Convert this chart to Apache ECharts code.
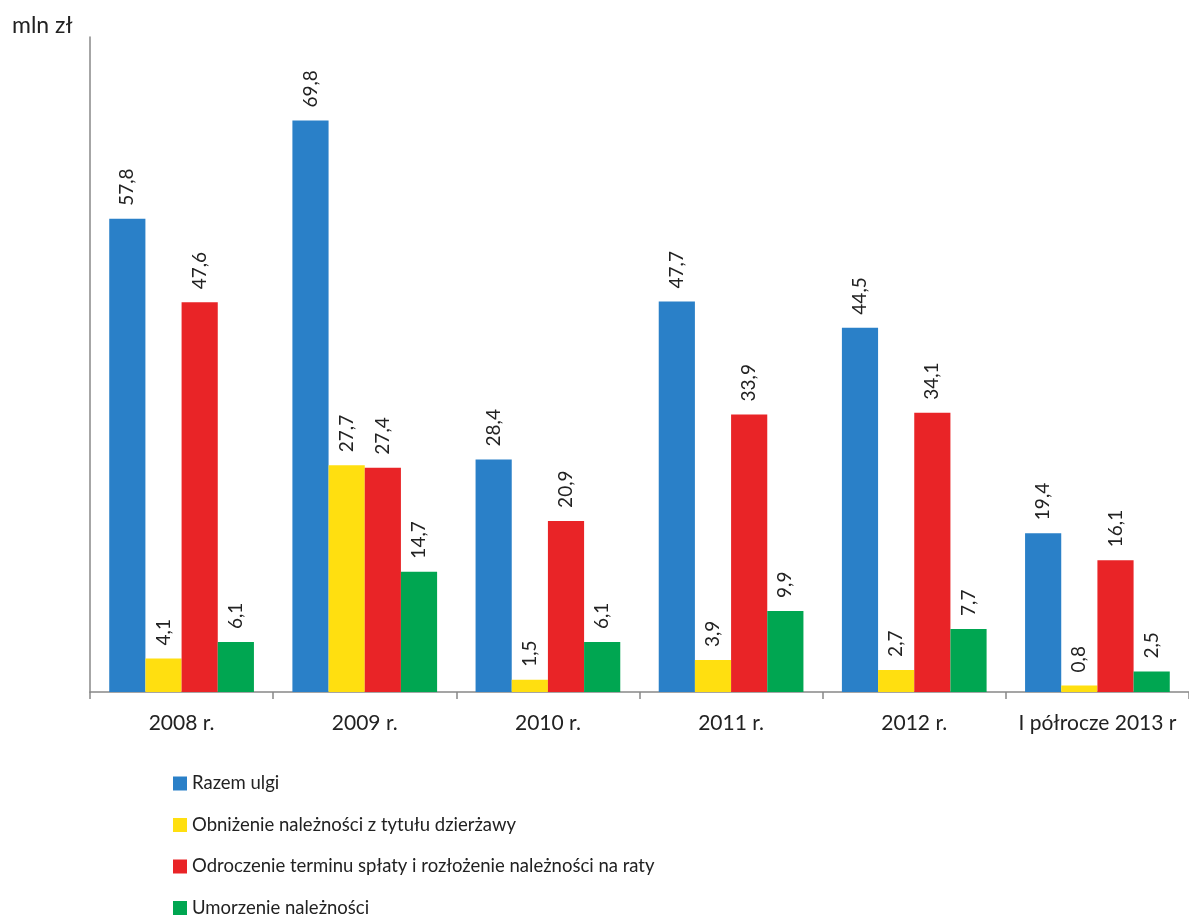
<!DOCTYPE html>
<html><head><meta charset="utf-8">
<script src="https://cdn.jsdelivr.net/npm/echarts@6/dist/echarts.min.js"></script>
<style>html,body{margin:0;padding:0;background:#fff}#c{width:1189px;height:915px}</style>
</head><body><div id="c"></div>
<script>
const categories = ['2008 r.', '2009 r.', '2010 r.', '2011 r.', '2012 r.', 'I półrocze 2013 r'];
const seriesNames = ['Razem ulgi', 'Obniżenie należności z tytułu dzierżawy', 'Odroczenie terminu spłaty i rozłożenie należności na raty', 'Umorzenie należności'];
const razemUlgi = [57.8, 69.8, 28.4, 47.7, 44.5, 19.4];
const obnizenie = [4.1, 27.7, 1.5, 3.9, 2.7, 0.8];
const odroczenie = [47.6, 27.4, 20.9, 33.9, 34.1, 16.1];
const umorzenie = [6.1, 14.7, 6.1, 9.9, 7.7, 2.5];
const colors = ['#2a80c8', '#ffdf10', '#e92427', '#00a651'];
const values = [razemUlgi, obnizenie, odroczenie, umorzenie];
const FONT = 'Lato';
const chart = echarts.init(document.getElementById('c'));
chart.setOption({
  animation: false,
  textStyle: {fontFamily: FONT},
  grid: {left: 90, top: 37, width: 1104, height: 655},
  graphic: [{type: 'text', left: 12, top: 14, style: {text: 'mln zł', font: '23px ' + FONT, fill: '#222'}}],
  legend: {
    orient: 'vertical', left: 168, top: 769, height: 200, itemWidth: 14, itemHeight: 14, itemGap: 22.5,
    icon: 'rect', textStyle: {fontSize: 18.5, color: '#222', fontFamily: FONT},
    data: seriesNames
  },
  xAxis: {
    type: 'category', data: categories,
    axisLine: {lineStyle: {color: '#888', width: 1.5}},
    axisTick: {show: true, interval: 0, length: 7, lineStyle: {color: '#888', width: 1.5}},
    axisLabel: {interval: 0, fontSize: 21, color: '#222', margin: 21, fontFamily: FONT}
  },
  yAxis: {
    type: 'value', min: 0, max: 80,
    axisLine: {show: true, lineStyle: {color: '#888', width: 1.5}},
    axisTick: {show: false}, axisLabel: {show: false}, splitLine: {show: false}
  },
  series: values.map((v, i) => ({
    type: 'bar', name: seriesNames[i], data: v, barGap: '0%', barCategoryGap: '21%',
    itemStyle: {color: colors[i]},
    label: {
      show: true, position: 'top', rotate: 90, align: 'left', verticalAlign: 'middle', distance: 13,
      fontSize: 19, color: '#222', fontFamily: FONT,
      formatter: p => String(p.value).replace('.', ',')
    }
  }))
});
</script></body></html>
